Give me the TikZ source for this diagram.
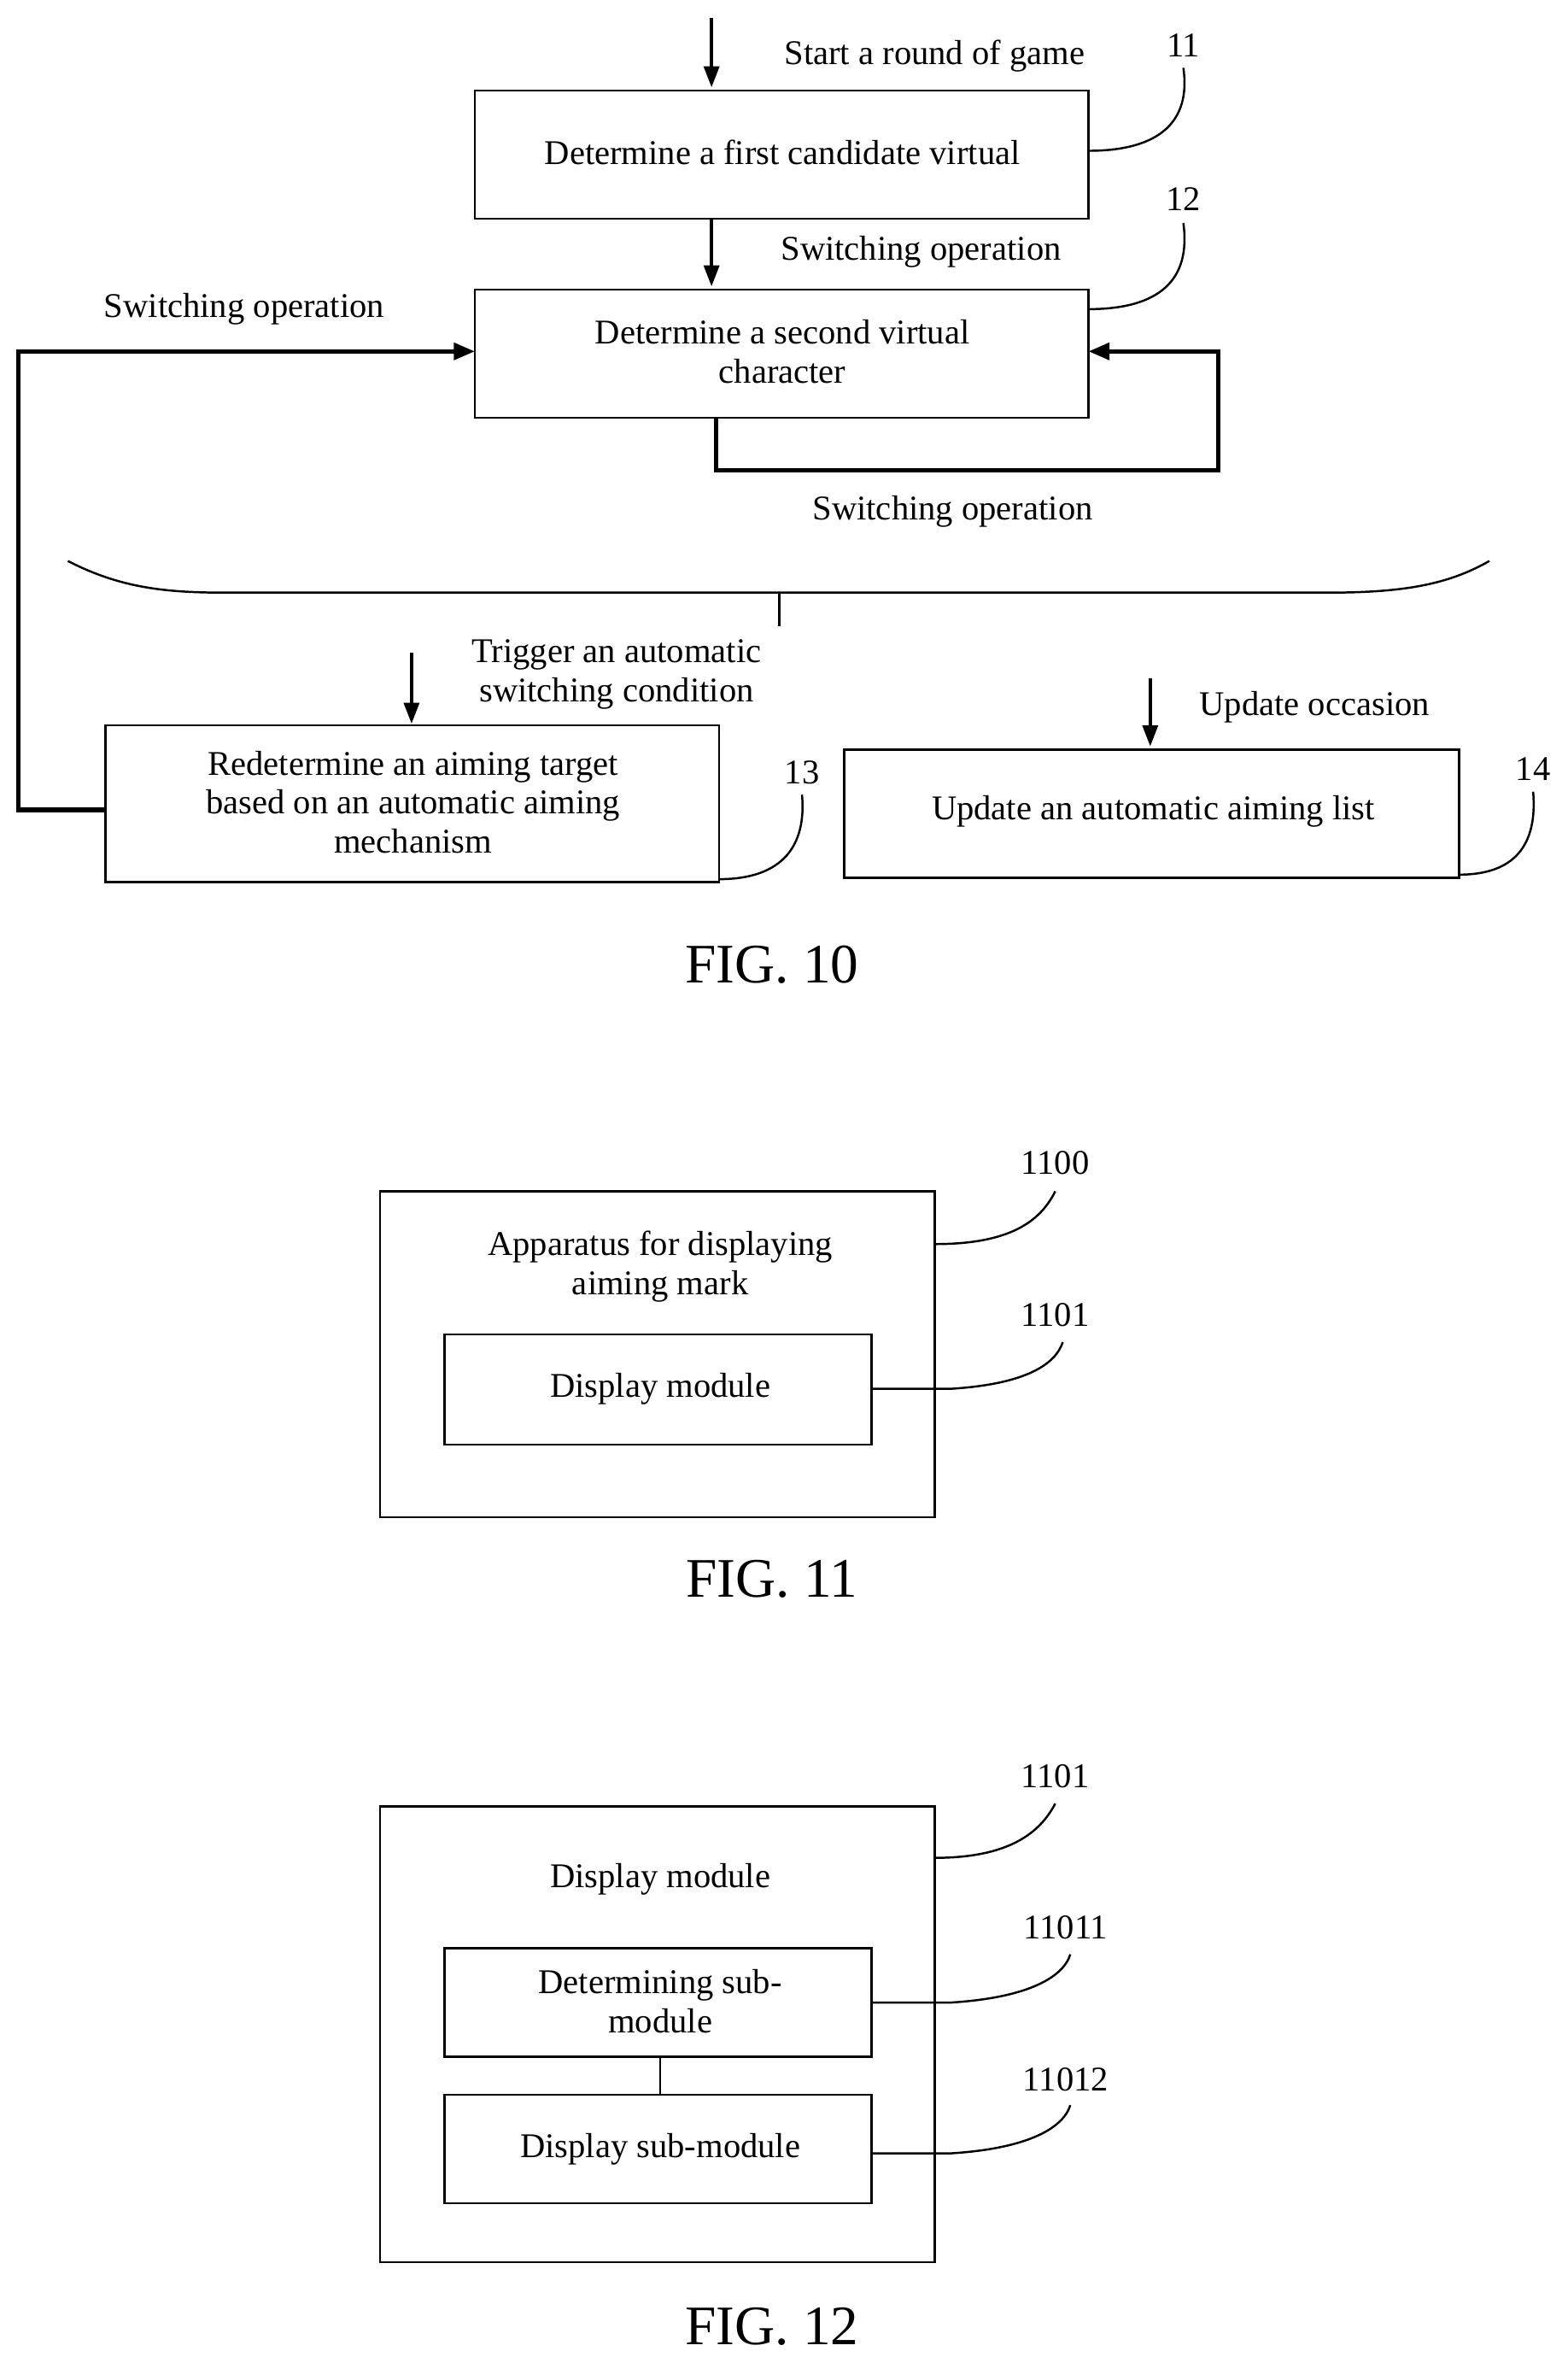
\documentclass[tikz,border=0pt]{standalone}
\usepackage{fontspec}
\setmainfont{Liberation Serif}
\usetikzlibrary{arrows.meta}
\begin{document}
\begin{tikzpicture}[x=1pt,y=-1pt,
  box/.style={draw,line width=1.4pt},
  txt/.style={font=\fontsize{23}{26}\selectfont,align=center,inner sep=0pt},
  fig/.style={font=\fontsize{37}{40}\selectfont,inner sep=0pt},
  arr/.style={line width=2.4pt,-{Triangle[length=14pt,width=10pt]}},
  loop/.style={line width=3pt,-{Triangle[length=14pt,width=11pt]}},
  lead/.style={line width=1.4pt}]
\useasboundingbox (0,0) rectangle (1040,1567);
% FIG 10
\coordinate (a0) at (472,12);
\draw[box] (315,60) rectangle (722,145);
\node[txt] (t11) at (519,101) {Determine a first candidate virtual};
\coordinate (b11t) at (472,58);
\draw[arr] (a0) -- (b11t);
\node[txt] (l0) at (620,37) {Start a round of game};
\node[txt] (n11) at (785,30) {11};
\coordinate (b11r) at (722,100);
\draw[lead] (b11r) .. controls (770,100) and (790,80) .. (785,45);
\coordinate (b11b) at (472,145);
\coordinate (b12t) at (472,190);
\draw[arr] (b11b) -- (b12t);
\node[txt] (l1) at (611,167) {Switching operation};
\draw[box] (315,192) rectangle (722,277);
\node[txt] (t12) at (519,233) {Determine a second virtual\\character};
\node[txt] (n12) at (785,132) {12};
\coordinate (b12r) at (722,205);
\draw[lead] (b12r) .. controls (770,205) and (790,185) .. (785,148);
\coordinate (lp1) at (475,277);
\coordinate (lp2) at (722,233);
\draw[loop] (lp1) -- (475,312) -- (808,312) -- (808,233) -- (lp2);
\node[txt] (l2) at (632,339) {Switching operation};
\coordinate (b13l) at (70,537);
\coordinate (b12l) at (315,233);
\draw[loop] (b13l) -- (12,537) -- (12,233) -- (b12l);
\node[txt] (l3) at (162,205) {Switching operation};
% brace
\coordinate (br) at (517,393);
\draw[line width=1.4pt] (45,372) .. controls (80,390) and (110,393) .. (150,393) -- (880,393) .. controls (930,393) and (960,388) .. (988,372);
\draw[line width=1.4pt] (br) -- (517,415);
% box 13
\coordinate (a13) at (273,433);
\coordinate (b13t) at (273,480);
\draw[arr] (a13) -- (b13t);
\node[txt] (l4) at (409,447) {Trigger an automatic\\switching condition};
\draw[box] (70,481) rectangle (477,585);
\node[txt] (t13) at (274,532) {Redetermine an aiming target\\based on an automatic aiming\\mechanism};
\node[txt] (n13) at (532,512) {13};
\coordinate (b13r) at (477,583);
\draw[lead] (b13r) .. controls (520,583) and (535,560) .. (532,527);
% box 14
\coordinate (a14) at (763,450);
\coordinate (b14t) at (763,495);
\draw[arr] (a14) -- (b14t);
\node[txt] (l5) at (872,469) {Update occasion};
\draw[box] (560,497) rectangle (968,582);
\node[txt] (t14) at (765,538) {Update an automatic aiming list};
\node[txt] (n14) at (1017,510) {14};
\coordinate (b14r) at (968,580);
\draw[lead] (b14r) .. controls (1005,580) and (1020,560) .. (1017,525);
\node[fig] (f10) at (512,640) {FIG. 10};
% FIG 11
\draw[box] (252,790) rectangle (620,1006);
\node[txt] (t1100) at (438,840) {Apparatus for displaying\\aiming mark};
\node[txt] (n1100) at (700,771) {1100};
\coordinate (o11) at (620,825);
\draw[lead] (o11) .. controls (670,825) and (690,810) .. (700,790);
\draw[box] (295,885) rectangle (578,958);
\node[txt] (t1101) at (438,921) {Display module};
\node[txt] (n1101) at (700,872) {1101};
\coordinate (i11) at (578,921);
\draw[lead] (i11) -- (630,921) .. controls (680,918) and (700,905) .. (705,890);
\node[fig] (f11) at (512,1047) {FIG. 11};
% FIG 12
\draw[box] (252,1198) rectangle (620,1500);
\node[txt] (t12b) at (438,1246) {Display module};
\node[txt] (n1101b) at (700,1178) {1101};
\coordinate (o12) at (620,1232);
\draw[lead] (o12) .. controls (670,1232) and (690,1215) .. (700,1196);
\draw[box] (295,1292) rectangle (578,1364);
\node[txt] (t11011) at (438,1327) {Determining sub-\\module};
\node[txt] (n11011) at (707,1278) {11011};
\coordinate (i1) at (578,1328);
\draw[lead] (i1) -- (630,1328) .. controls (680,1325) and (705,1312) .. (710,1296);
\coordinate (c1) at (438,1364);
\coordinate (c2) at (438,1389);
\draw[lead] (c1) -- (c2);
\draw[box] (295,1389) rectangle (578,1461);
\node[txt] (t11012) at (438,1425) {Display sub-module};
\node[txt] (n11012) at (707,1379) {11012};
\coordinate (i2) at (578,1428);
\draw[lead] (i2) -- (630,1428) .. controls (680,1425) and (705,1412) .. (710,1396);
\node[fig] (f12) at (512,1543) {FIG. 12};
\end{tikzpicture}
\end{document}
